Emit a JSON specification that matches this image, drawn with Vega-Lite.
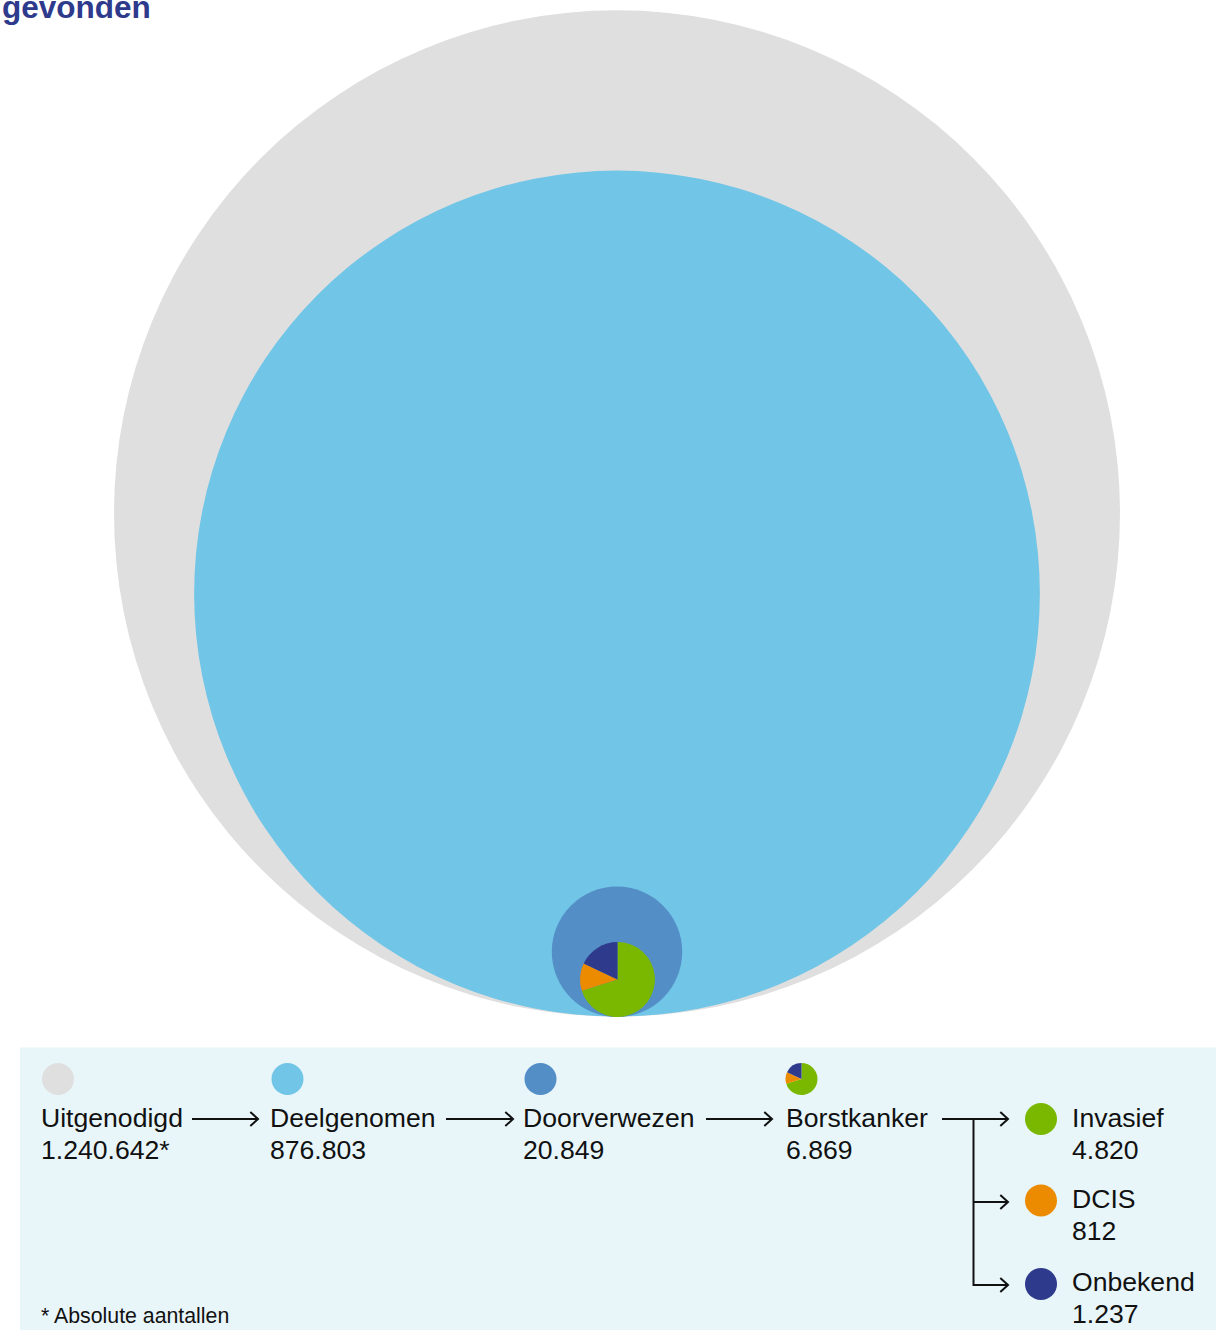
{
  "$schema": "https://vega.github.io/schema/vega-lite/v6.json",
  "width": 1229,
  "height": 1330,
  "padding": 0,
  "autosize": "none",
  "background": "white",
  "config": {"view": {"stroke": null}},
  "datasets": {
    "panel": [{"x": 20, "x2": 1216, "y": 1047.5, "y2": 1340}],
    "circles": [
      {"category": "Uitgenodigd", "value": 1240642, "x": 617, "y": 513.5},
      {"category": "Deelgenomen", "value": 876803, "x": 617, "y": 593.6},
      {"category": "Doorverwezen", "value": 20849, "x": 617, "y": 951.8}
    ],
    "pie": [
      {"category": "Invasief", "value": 4820, "ord": 1, "total": 6869, "x": 617.5, "y": 979.5},
      {"category": "DCIS", "value": 812, "ord": 2, "total": 6869, "x": 617.5, "y": 979.5},
      {"category": "Onbekend", "value": 1237, "ord": 3, "total": 6869, "x": 617.5, "y": 979.5}
    ],
    "pieLegend": [
      {"category": "Invasief", "value": 4820, "ord": 1, "x": 801.5, "y": 1079},
      {"category": "DCIS", "value": 812, "ord": 2, "x": 801.5, "y": 1079},
      {"category": "Onbekend", "value": 1237, "ord": 3, "x": 801.5, "y": 1079}
    ],
    "legendDots": [
      {"category": "Uitgenodigd", "x": 58, "y": 1079},
      {"category": "Deelgenomen", "x": 287.5, "y": 1079},
      {"category": "Doorverwezen", "x": 540.5, "y": 1079},
      {"category": "Invasief", "x": 1041, "y": 1119},
      {"category": "DCIS", "x": 1041, "y": 1200.5},
      {"category": "Onbekend", "x": 1041, "y": 1284}
    ],
    "lines": [
      {"x": 192, "x2": 258, "y": 1119, "y2": 1119},
      {"x": 446, "x2": 513, "y": 1119, "y2": 1119},
      {"x": 706, "x2": 772, "y": 1119, "y2": 1119},
      {"x": 942, "x2": 1008, "y": 1119, "y2": 1119},
      {"x": 973.5, "x2": 973.5, "y": 1119, "y2": 1286},
      {"x": 973.5, "x2": 1008, "y": 1202, "y2": 1202},
      {"x": 973.5, "x2": 1008, "y": 1285, "y2": 1285}
    ],
    "heads": [
      {"x": 258, "y": 1119},
      {"x": 513, "y": 1119},
      {"x": 772, "y": 1119},
      {"x": 1008, "y": 1119},
      {"x": 1008, "y": 1202},
      {"x": 1008, "y": 1285}
    ],
    "labels": [
      {"text": "Uitgenodigd", "x": 41, "y": 1127},
      {"text": "1.240.642*", "x": 41, "y": 1159},
      {"text": "Deelgenomen", "x": 270, "y": 1127},
      {"text": "876.803", "x": 270, "y": 1159},
      {"text": "Doorverwezen", "x": 523, "y": 1127},
      {"text": "20.849", "x": 523, "y": 1159},
      {"text": "Borstkanker", "x": 786, "y": 1127},
      {"text": "6.869", "x": 786, "y": 1159},
      {"text": "Invasief", "x": 1072, "y": 1127},
      {"text": "4.820", "x": 1072, "y": 1159},
      {"text": "DCIS", "x": 1072, "y": 1208},
      {"text": "812", "x": 1072, "y": 1240},
      {"text": "Onbekend", "x": 1072, "y": 1291},
      {"text": "1.237", "x": 1072, "y": 1323}
    ],
    "title": [{"text": "gevonden", "x": 2, "y": 18}],
    "note": [{"text": "* Absolute aantallen", "x": 41, "y": 1323}]
  },
  "encoding": {
    "x": {"field": "x", "type": "quantitative", "scale": {"domain": [0, 1229], "nice": false, "zero": false}, "axis": null},
    "y": {"field": "y", "type": "quantitative", "scale": {"domain": [0, 1330], "nice": false, "zero": false, "reverse": true}, "axis": null}
  },
  "layer": [
    {
      "data": {"name": "panel"},
      "mark": {"type": "rect", "fill": "#e8f6fa"},
      "encoding": {"x2": {"field": "x2"}, "y2": {"field": "y2"}}
    },
    {
      "data": {"name": "circles"},
      "mark": {"type": "circle", "opacity": 1},
      "encoding": {
        "color": {"field": "category", "type": "nominal", "legend": null,
          "scale": {"domain": ["Uitgenodigd", "Deelgenomen", "Doorverwezen", "Invasief", "DCIS", "Onbekend"],
                    "range": ["#dfdfdf", "#71c5e6", "#538ec7", "#7ab800", "#ec8a00", "#2e3a8c"]}},
        "size": {"field": "value", "type": "quantitative", "legend": null,
          "scale": {"domain": [0, 1240642], "range": [0, 1012036], "zero": true}}
      }
    },
    {
      "data": {"name": "pie"},
      "mark": {"type": "arc"},
      "encoding": {
        "theta": {"field": "value", "type": "quantitative", "stack": true},
        "order": {"field": "ord", "type": "quantitative"},
        "radius": {"field": "total", "type": "quantitative",
          "scale": {"type": "sqrt", "domain": [0, 1240642], "range": [0, 503], "zero": true}},
        "color": {"field": "category", "type": "nominal", "legend": null,
          "scale": {"domain": ["Uitgenodigd", "Deelgenomen", "Doorverwezen", "Invasief", "DCIS", "Onbekend"],
                    "range": ["#dfdfdf", "#71c5e6", "#538ec7", "#7ab800", "#ec8a00", "#2e3a8c"]}}
      }
    },
    {
      "data": {"name": "pieLegend"},
      "mark": {"type": "arc", "radius": 16},
      "encoding": {
        "theta": {"field": "value", "type": "quantitative", "stack": true},
        "order": {"field": "ord", "type": "quantitative"},
        "color": {"field": "category", "type": "nominal", "legend": null,
          "scale": {"domain": ["Uitgenodigd", "Deelgenomen", "Doorverwezen", "Invasief", "DCIS", "Onbekend"],
                    "range": ["#dfdfdf", "#71c5e6", "#538ec7", "#7ab800", "#ec8a00", "#2e3a8c"]}}
      }
    },
    {
      "data": {"name": "legendDots"},
      "mark": {"type": "circle", "opacity": 1, "size": 1024},
      "encoding": {
        "color": {"field": "category", "type": "nominal", "legend": null,
          "scale": {"domain": ["Uitgenodigd", "Deelgenomen", "Doorverwezen", "Invasief", "DCIS", "Onbekend"],
                    "range": ["#dfdfdf", "#71c5e6", "#538ec7", "#7ab800", "#ec8a00", "#2e3a8c"]}}
      }
    },
    {
      "data": {"name": "lines"},
      "mark": {"type": "rule", "stroke": "#111111", "strokeWidth": 2},
      "encoding": {"x2": {"field": "x2"}, "y2": {"field": "y2"}}
    },
    {
      "data": {"name": "heads"},
      "mark": {"type": "point", "shape": "M -1.1 -1 L 0 0 L -1.1 1", "filled": false, "stroke": "#111111", "strokeWidth": 2, "size": 196, "opacity": 1}
    },
    {
      "data": {"name": "labels"},
      "mark": {"type": "text", "font": "Liberation Sans", "fontSize": 26.6, "align": "left", "baseline": "alphabetic", "fill": "#111111"},
      "encoding": {"text": {"field": "text"}}
    },
    {
      "data": {"name": "title"},
      "mark": {"type": "text", "font": "Liberation Sans", "fontSize": 31.5, "fontWeight": "bold", "align": "left", "baseline": "alphabetic", "fill": "#2e3a8c"},
      "encoding": {"text": {"field": "text"}}
    },
    {
      "data": {"name": "note"},
      "mark": {"type": "text", "font": "Liberation Sans", "fontSize": 21.3, "align": "left", "baseline": "alphabetic", "fill": "#111111"},
      "encoding": {"text": {"field": "text"}}
    }
  ]
}
